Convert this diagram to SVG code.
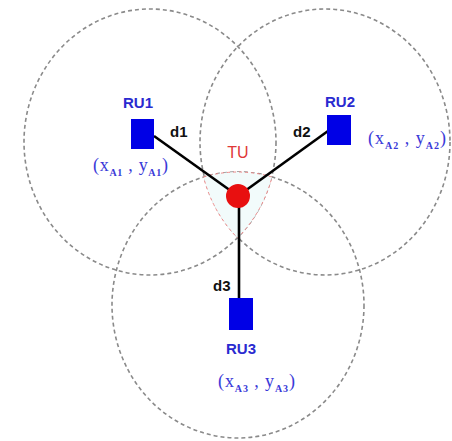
<svg xmlns="http://www.w3.org/2000/svg" width="452" height="441" viewBox="0 0 452 441">
<style>
.rng{fill:none;stroke:#8a8a8a;stroke-width:1.6;stroke-dasharray:4 3}
.ru{fill:#0000e6}
.lbl{font-family:"Liberation Sans",Arial,sans-serif;font-size:15px;font-weight:bold;fill:#2a2ad0;text-anchor:middle}
.d{font-family:"Liberation Sans",Arial,sans-serif;font-size:15px;font-weight:bold;fill:#111}
.co{font-family:"Liberation Serif","Times New Roman",serif;font-size:18px;fill:#3a3ad8}
.sub{font-size:10px;font-weight:bold}
.link{stroke:#000;stroke-width:2.6;fill:none}
</style>
<rect width="452" height="441" fill="#fff"/>
<g id="ranges">
<ellipse class="rng" cx="150" cy="142" rx="126" ry="133"/>
<ellipse class="rng" cx="325" cy="142" rx="125" ry="133"/>
<ellipse class="rng" cx="238" cy="305" rx="126" ry="133"/>
<path d="M203.5,177 A126,133 0 0 1 272,177 A126,133 0 0 1 237.5,238 A126,133 0 0 1 203.5,177 Z" fill="#f2fbfb" stroke="#e88" stroke-width="1" stroke-dasharray="3 3"/>
</g>
<g id="connectors">
<line class="link" x1="154" y1="136" x2="238" y2="196"/>
<line class="link" x1="328" y1="131" x2="238" y2="196"/>
<line class="link" x1="239" y1="196" x2="239" y2="299"/>
<text class="d" x="170" y="137">d1</text>
<text class="d" x="293" y="137">d2</text>
<text class="d" x="213" y="291">d3</text>
</g>
<g id="RU1">
<rect class="ru" x="131" y="119" width="23" height="30"/>
<text class="lbl" x="138" y="108">RU1</text>
<text class="co" x="93" y="171" textLength="75" lengthAdjust="spacing">(x<tspan class="sub" dy="5">A1</tspan><tspan dy="-5"> , y</tspan><tspan class="sub" dy="5">A1</tspan><tspan dy="-5">)</tspan></text>
</g>
<g id="RU2">
<rect class="ru" x="327" y="115" width="24" height="30"/>
<text class="lbl" x="340" y="107">RU2</text>
<text class="co" x="368" y="144" textLength="78" lengthAdjust="spacing">(x<tspan class="sub" dy="5">A2</tspan><tspan dy="-5"> , y</tspan><tspan class="sub" dy="5">A2</tspan><tspan dy="-5">)</tspan></text>
</g>
<g id="RU3">
<rect class="ru" x="229" y="298" width="24" height="32"/>
<text class="lbl" x="241" y="354">RU3</text>
<text class="co" x="218" y="387" textLength="77" lengthAdjust="spacing">(x<tspan class="sub" dy="5">A3</tspan><tspan dy="-5"> , y</tspan><tspan class="sub" dy="5">A3</tspan><tspan dy="-5">)</tspan></text>
</g>
<g id="TU">
<circle cx="238" cy="196" r="12" fill="#e81010"/>
<text x="238" y="158" font-family="Liberation Sans,Arial,sans-serif" font-size="16" fill="#e03838" text-anchor="middle">TU</text>
</g>
</svg>
